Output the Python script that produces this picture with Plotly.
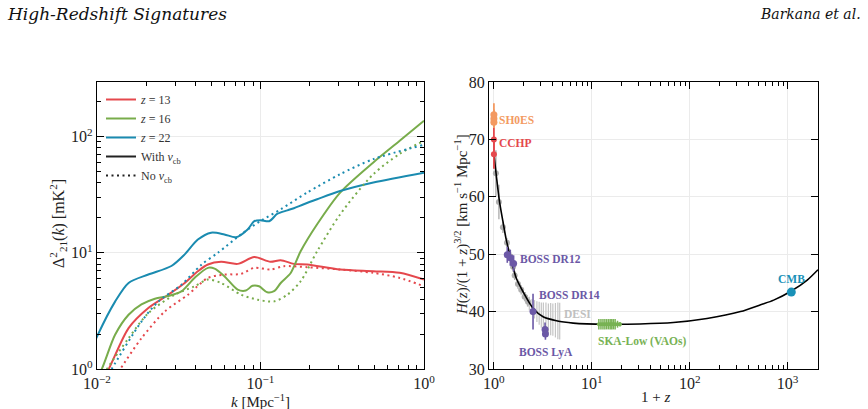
import plotly.graph_objects as go

W, H = 868, 409

# ---------------- Left panel: 21-cm power spectrum ----------------
k_r_s = [0.0105, 0.0118, 0.0156, 0.0206, 0.0273, 0.0344, 0.0414, 0.0477, 0.0574, 0.0725, 0.0916, 0.115, 0.133, 0.16, 0.193, 0.307, 0.49, 0.71, 1.0]
d_r_s = [0.75, 1.0, 2.25, 3.35, 4.36, 5.5, 6.94, 7.93, 8.36, 8.03, 9.18, 8.36, 8.64, 8.03, 7.93, 7.18, 6.94, 6.72, 5.88]
k_r_d = [0.0125, 0.0139, 0.0187, 0.026, 0.036, 0.0477, 0.0601, 0.076, 0.0916, 0.115, 0.139, 0.193, 0.307, 0.49, 0.71, 1.0]
d_r_d = [0.78, 1.0, 1.84, 3.13, 4.36, 6.08, 6.5, 6.58, 7.42, 7.18, 7.67, 7.52, 7.18, 6.72, 6.08, 5.15]

k_g_s = [0.0097, 0.0107, 0.0129, 0.0156, 0.0187, 0.0226, 0.0273, 0.0328, 0.0395, 0.0477, 0.0524, 0.0601, 0.0725, 0.0814, 0.0894, 0.098, 0.11, 0.121, 0.133, 0.153, 0.176, 0.222, 0.307, 0.49, 0.71, 1.0]
d_g_s = [0.78, 1.0, 1.97, 2.93, 3.6, 4.03, 4.25, 4.66, 6.08, 7.42, 7.3, 6.29, 4.82, 4.73, 5.2, 5.15, 4.57, 4.67, 5.5, 6.7, 10.3, 17.6, 33.0, 60.0, 92.0, 137.0]
k_g_d = [0.0102, 0.0115, 0.0156, 0.0206, 0.0299, 0.0395, 0.0477, 0.0574, 0.076, 0.096, 0.121, 0.146, 0.176, 0.222, 0.307, 0.49, 0.71, 1.0]
d_g_d = [0.75, 1.0, 1.84, 3.03, 4.36, 5.15, 5.88, 5.5, 4.36, 3.95, 3.82, 4.36, 5.69, 10.3, 21.4, 47.5, 71.0, 92.0]

k_b_s = [0.0095, 0.01, 0.0129, 0.0156, 0.0206, 0.0285, 0.0344, 0.0414, 0.0499, 0.0601, 0.0708, 0.0834, 0.0916, 0.1, 0.113, 0.127, 0.146, 0.16, 0.184, 0.222, 0.307, 0.49, 1.0]
d_b_s = [1.6, 1.9, 3.8, 5.5, 6.5, 7.7, 9.7, 13.0, 14.9, 14.4, 13.6, 15.9, 18.7, 19.1, 18.7, 21.7, 23.2, 24.2, 26.2, 28.9, 34.0, 40.3, 49.0]
k_b_d = [0.011, 0.0123, 0.0187, 0.0237, 0.0328, 0.0435, 0.0548, 0.076, 0.1, 0.133, 0.193, 0.307, 0.49, 1.0]
d_b_d = [0.75, 1.0, 2.56, 3.8, 5.3, 7.9, 10.0, 14.4, 18.8, 23.7, 33.0, 47.5, 64.0, 85.0]

# ---------------- Right panel: H(z)/(1+z)^1.5 ----------------
model_x = [1.0, 1.057, 1.14, 1.237, 1.338, 1.505, 1.694, 1.98, 2.51, 3.18, 4.35, 6.45, 14.2, 31, 68, 150, 330, 530, 720, 1070, 1585, 2040]
model_y = [67.4, 63.8, 59.2, 55.7, 52.5, 49.0, 45.8, 43.5, 40.6, 39.1, 38.4, 38.0, 37.8, 37.85, 38.1, 38.8, 40.0, 41.2, 42.0, 43.5, 45.5, 47.3]

shoes_x = [1.0, 1.0, 1.0]
shoes_y = [73.0, 73.6, 74.3]
shoes_e = [1.0, 1.6, 2.0]

cchp_x = [1.0, 1.0]
cchp_y = [70.0, 67.4]
cchp_e = [2.0, 2.5]

gray_x = [1.048, 1.125, 1.236, 1.36, 1.48, 1.57, 1.63, 1.76, 1.9, 2.06, 2.23]
gray_y = [64.1, 59.1, 54.7, 52.0, 49.6, 47.8, 46.3, 44.8, 43.8, 42.6, 41.7]
gray_e = [4.0, 3.0, 1.0, 0.8, 0.8, 0.8, 0.8, 0.8, 0.8, 0.8, 0.8]

desi_x = [2.0, 2.1, 2.2, 2.3, 2.45, 2.6, 2.75, 2.9, 3.05, 3.2, 3.4, 3.6, 3.8, 4.0, 4.25, 4.5, 4.7]
desi_y = [43.3, 42.6, 41.9, 41.4, 40.8, 40.4, 40.0, 39.7, 39.4, 39.2, 39.0, 38.8, 38.7, 38.6, 38.5, 38.4, 38.35]
desi_e = [0.6, 0.8, 1.0, 1.2, 1.4, 1.6, 1.8, 2.0, 2.2, 2.4, 2.6, 2.6, 2.8, 2.8, 3.0, 3.2, 3.2]

dr12_x = [1.37, 1.47, 1.59]
dr12_y = [49.9, 49.4, 48.4]
dr12_e = [1.4, 1.4, 1.4]

dr14_x = [2.51]
dr14_y = [40.0]
dr14_e = [3.1]

lya_x = [3.33, 3.36]
lya_y = [36.9, 36.1]
lya_e = [1.2, 1.0]

ska_x = [11.8, 12.4, 13.0, 13.6, 14.2, 14.8, 15.4, 16.0, 16.6, 17.3, 18.3, 19.4]
ska_y = [37.8, 37.8, 37.8, 37.8, 37.8, 37.8, 37.8, 37.8, 37.8, 37.8, 37.8, 37.8]
ska_e = [0.9, 0.9, 0.9, 0.9, 0.9, 0.9, 0.9, 0.9, 0.9, 0.9, 0.6, 0.4]

cmb_x = [1090]
cmb_y = [43.4]

RED = '#E5484D'
GREEN = '#78AC4B'
BLUE = '#1A8BB0'
FONT = 'Liberation Serif, Times New Roman, serif'
HEAD = 'DejaVu Serif, serif'
DOT = '2px,3.5px'

fig = go.Figure()

def line(x, y, color, dash, name=None, show=False):
    fig.add_trace(go.Scatter(x=x, y=y, mode='lines', line=dict(color=color, width=2, dash=dash, shape='spline', smoothing=0.8),
                             name=name, showlegend=show, xaxis='x', yaxis='y', hoverinfo='skip'))

line(k_r_s, d_r_s, RED, 'solid', '<i>z</i> = 13', True)
line(k_g_s, d_g_s, GREEN, 'solid', '<i>z</i> = 16', True)
line(k_b_s, d_b_s, BLUE, 'solid', '<i>z</i> = 22', True)
line(k_r_d, d_r_d, RED, DOT)
line(k_g_d, d_g_d, GREEN, DOT)
line(k_b_d, d_b_d, BLUE, DOT)
fig.add_trace(go.Scatter(x=[None], y=[None], mode='lines', line=dict(color='#222', width=2), name='With <i>v</i><sub>cb</sub>', xaxis='x', yaxis='y'))
fig.add_trace(go.Scatter(x=[None], y=[None], mode='lines', line=dict(color='#222', width=2, dash=DOT), name='No <i>v</i><sub>cb</sub>', xaxis='x', yaxis='y'))

# right panel
def pts(x, y, e, color, size, ew=1.6):
    fig.add_trace(go.Scatter(x=x, y=y, mode='markers', marker=dict(color=color, size=size),
                             error_y=dict(type='data', array=e, visible=True, color=color, thickness=ew, width=0),
                             showlegend=False, xaxis='x2', yaxis='y2', hoverinfo='skip'))

pts(desi_x, desi_y, desi_e, '#C4C4C4', 2, 1.2)
pts(gray_x, gray_y, gray_e, '#B0B0B0', 6, 1.4)
fig.add_trace(go.Scatter(x=model_x, y=model_y, mode='lines', line=dict(color='black', width=1.6, shape='spline', smoothing=0.8),
                         showlegend=False, xaxis='x2', yaxis='y2', hoverinfo='skip'))
pts(shoes_x, shoes_y, shoes_e, '#F39A62', 7, 1.8)
pts(cchp_x, cchp_y, cchp_e, RED, 6, 1.8)
pts(dr12_x, dr12_y, dr12_e, '#6B58A6', 7)
pts(dr14_x, dr14_y, dr14_e, '#6B58A6', 7)
pts(lya_x, lya_y, lya_e, '#6B58A6', 7)
pts(ska_x, ska_y, ska_e, '#78B254', 4, 1.5)
fig.add_trace(go.Scatter(x=cmb_x, y=cmb_y, mode='markers', marker=dict(color='#1A91B8', size=9),
                         showlegend=False, xaxis='x2', yaxis='y2', hoverinfo='skip'))

def px(x):
    return x / W

def py(y):
    return 1 - y / H

tickfont = dict(family=FONT, size=16, color='#222')
common = dict(showline=True, linecolor='black', linewidth=1.2, mirror='ticks', ticks='inside', ticklen=7,
              tickcolor='black', tickfont=tickfont, showgrid=True, gridcolor='#EBEBEB', gridwidth=1, zeroline=False,
              automargin=False)

def minor_log(lo, hi):
    vals = []
    for d in range(lo, hi + 1):
        for m in range(2, 10):
            vals.append(m * 10.0 ** d)
    return vals

fig.update_layout(
    template='none',
    width=W, height=H, margin=dict(l=0, r=0, t=0, b=0, pad=0), autosize=False,
    paper_bgcolor='white', plot_bgcolor='white',
    font=dict(family=FONT, color='#222'),
    xaxis=dict(type='log', range=[-2, 0], domain=[px(97), px(424)], anchor='y',
               tickvals=[0.01, 0.1, 1], ticktext=['10<sup>−2</sup>', '10<sup>−1</sup>', '10<sup>0</sup>'],
               minor=dict(tickmode='array', tickvals=minor_log(-2, -1), ticks='inside', ticklen=4, tickcolor='black', showgrid=False),
               **common),
    yaxis=dict(type='log', range=[0, 2.47], domain=[py(369), py(82)], anchor='x',
               tickvals=[1, 10, 100], ticktext=['10<sup>0</sup>', '10<sup>1</sup>', '10<sup>2</sup>'],
               minor=dict(tickmode='array', tickvals=minor_log(0, 2), ticks='inside', ticklen=4, tickcolor='black', showgrid=False),
               **common),
    xaxis2=dict(type='log', range=[-0.05, 3.31], domain=[px(489), px(818)], anchor='y2',
                tickvals=[1, 10, 100, 1000], ticktext=['10<sup>0</sup>', '10<sup>1</sup>', '10<sup>2</sup>', '10<sup>3</sup>'],
                minor=dict(tickmode='array', tickvals=minor_log(0, 3), ticks='inside', ticklen=4, tickcolor='black', showgrid=False),
                **common),
    yaxis2=dict(range=[30, 80], domain=[py(369), py(82)], anchor='x2', tickvals=[30, 40, 50, 60, 70, 80], **common),
    showlegend=True,
    legend=dict(x=px(101), y=py(85), xanchor='left', yanchor='top', bgcolor='rgba(0,0,0,0)', borderwidth=0,
                font=dict(family=FONT, size=12, color='#333'), tracegroupgap=0),
)

ann = []
def text(x, y, s, size=16, color='#222', angle=0, xanchor='center', family=FONT):
    ann.append(dict(x=px(x), y=py(y), xref='paper', yref='paper', text=s, showarrow=False, textangle=angle,
                    xanchor=xanchor, yanchor='middle', font=dict(family=family, size=size, color=color)))

text(5, 14, '<i>High-Redshift Signatures</i>', size=17, color='#111', xanchor='left', family=HEAD)
text(863, 14, '<i>Barkana et al.</i>', size=14, color='#111', xanchor='right', family=HEAD)
text(58, 224, 'Δ<sup>2</sup><sub>21</sub>(<i>k</i>) [mK<sup>2</sup>]', size=16, angle=-90)
text(260, 401, '<i>k</i> [Mpc<sup>−1</sup>]', size=15)
text(461, 225, '<i>H</i>(<i>z</i>)/(1 + <i>z</i>)<sup>3/2</sup> [km s<sup>−1</sup> Mpc<sup>−1</sup>]', size=15, angle=-90)
text(655, 397, '1 + <i>z</i>', size=15)

def lab(x, y, s, color):
    text(x, y, '<b>' + s + '</b>', size=11.5, color=color, xanchor='left')

lab(497, 120, 'SH0ES', '#F39A62')
lab(497, 143, 'CCHP', RED)
lab(518, 259, 'BOSS DR12', '#6B58A6')
lab(537, 295, 'BOSS DR14', '#6B58A6')
lab(562, 314, 'DESI', '#C0C0C0')
lab(517, 352, 'BOSS LyA', '#6B58A6')
lab(596, 341, 'SKA-Low (VAOs)', '#78B254')
lab(776, 279, 'CMB', '#1A91B8')

fig.update_layout(annotations=ann)
fig.write_html('out.html')
